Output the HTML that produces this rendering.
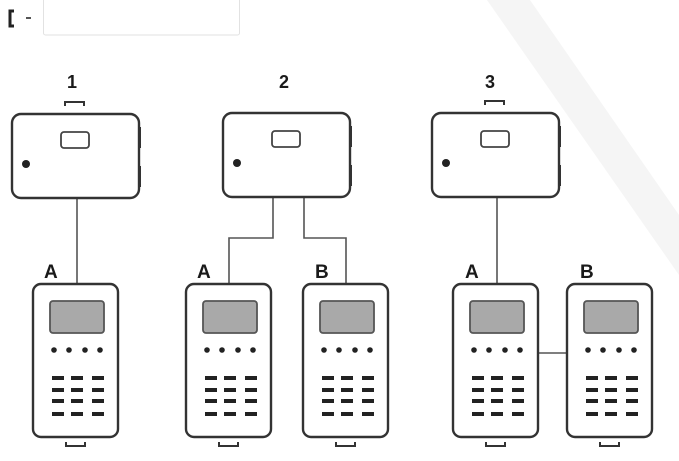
<!DOCTYPE html>
<html><head><meta charset="utf-8"><style>
html,body{margin:0;padding:0;background:#fff;width:679px;height:461px;overflow:hidden}
svg{display:block}
text{font-family:"Liberation Sans",Arial,sans-serif;font-weight:bold;fill:#1a1a1a}
</style></head><body>
<svg width="679" height="461" viewBox="0 0 679 461" xmlns="http://www.w3.org/2000/svg">
<defs>
<g id="unit">
<rect x="0" y="0" width="127" height="84" rx="9" fill="#fff" stroke="#333" stroke-width="2.4"/>
<rect x="49" y="18" width="28" height="16" rx="3" fill="#fff" stroke="#444" stroke-width="1.8"/>
<circle cx="14" cy="50" r="4" fill="#222"/>
<rect x="126" y="13" width="3" height="21" fill="#333"/>
<rect x="126" y="52" width="3" height="21" fill="#333"/>
</g>
<g id="hand">
<rect x="0" y="0" width="85" height="153" rx="8" fill="#fff" stroke="#333" stroke-width="2.4"/>
<rect x="17" y="17" width="54" height="32" rx="3" fill="#a9a9a9" stroke="#555" stroke-width="1.8"/>
<circle cx="21" cy="66" r="2.8" fill="#222"/><circle cx="36" cy="66" r="2.8" fill="#222"/>
<circle cx="52" cy="66" r="2.8" fill="#222"/><circle cx="67" cy="66" r="2.8" fill="#222"/>
<g fill="#222">
<rect x="19" y="92" width="12" height="4"/><rect x="38" y="92" width="12" height="4"/><rect x="59" y="92" width="12" height="4"/>
<rect x="19" y="104" width="12" height="4"/><rect x="38" y="104" width="12" height="4"/><rect x="59" y="104" width="12" height="4"/>
<rect x="19" y="115" width="12" height="4"/><rect x="38" y="115" width="12" height="4"/><rect x="59" y="115" width="12" height="4"/>
<rect x="19" y="128" width="12" height="4"/><rect x="38" y="128" width="12" height="4"/><rect x="59" y="128" width="12" height="4"/>
</g>
<path d="M33 158 v4 h19 v-4" fill="none" stroke="#333" stroke-width="2"/>
</g>
</defs>
<polygon points="487,0 530,0 679,215 679,275" fill="#f5f5f5"/>
<path d="M14 11 h-4 v15 h4" fill="none" stroke="#222" stroke-width="3"/>
<rect x="26" y="17" width="5" height="2" fill="#555"/>
<rect x="43.5" y="-2" width="196" height="37" rx="2" fill="#fff" stroke="#e2e2e2" stroke-width="1"/>
<text x="67" y="88" font-size="18">1</text>
<text x="279" y="88" font-size="18">2</text>
<text x="485" y="88" font-size="18">3</text>
<path d="M65 106 v-4 h19 v4" fill="none" stroke="#333" stroke-width="2"/>
<path d="M485 105 v-4 h19 v4" fill="none" stroke="#333" stroke-width="2"/>
<g fill="none" stroke="#555" stroke-width="1.6">
<path d="M77 199 V284"/>
<path d="M273 197 V238 H229 V284"/>
<path d="M304 197 V238 H346 V284"/>
<path d="M497 197 V284"/>
<path d="M538 353 H567"/>
</g>
<use href="#unit" x="12" y="114"/>
<use href="#unit" x="223" y="113"/>
<use href="#unit" x="432" y="113"/>
<use href="#hand" x="33" y="284"/>
<use href="#hand" x="186" y="284"/>
<use href="#hand" x="303" y="284"/>
<use href="#hand" x="453" y="284"/>
<use href="#hand" x="567" y="284"/>
<text x="44" y="278" font-size="19">A</text>
<text x="197" y="278" font-size="19">A</text>
<text x="315" y="278" font-size="19">B</text>
<text x="465" y="278" font-size="19">A</text>
<text x="580" y="278" font-size="19">B</text>
</svg>
</body></html>
